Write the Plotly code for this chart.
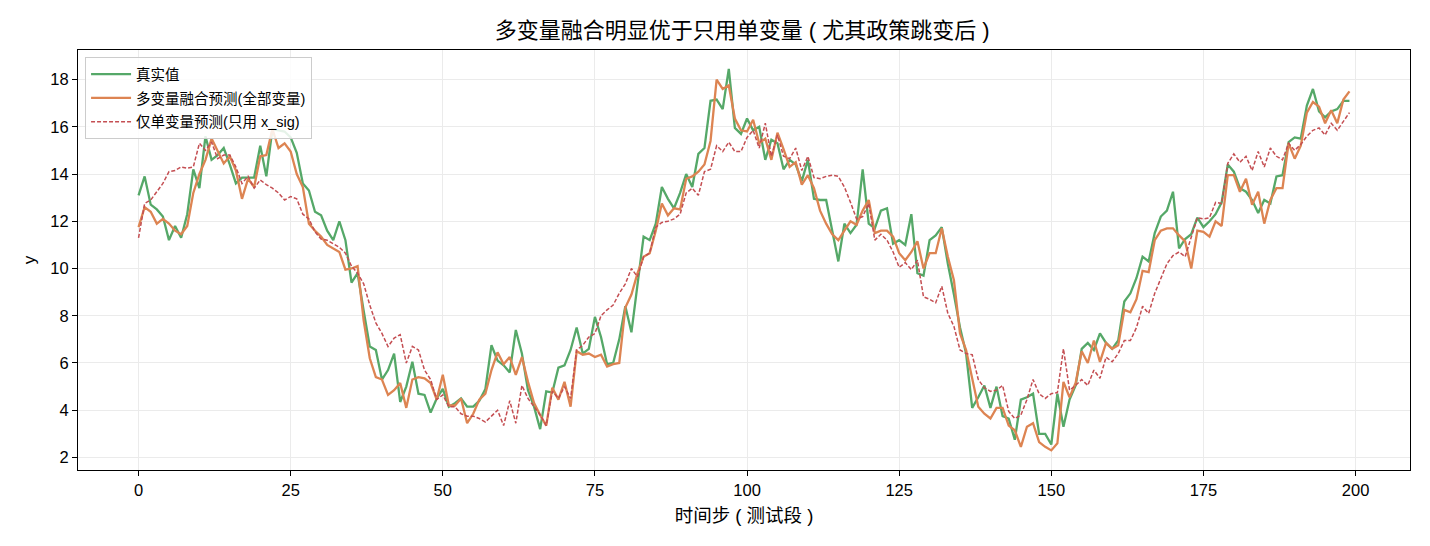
import plotly.graph_objects as go

steps = list(range(200))

y_true = [
13.1,13.9,12.7,12.5,12.2,11.2,11.8,11.3,12.3,14.2,
13.4,15.6,14.6,14.8,15.1,14.4,13.6,13.85,13.85,13.85,
15.2,13.9,15.9,15.85,15.8,15.55,14.9,13.6,13.3,12.4,
12.25,11.6,11.2,12.0,11.2,9.4,9.8,8.2,6.7,6.55,
5.3,5.7,6.4,4.35,5.0,6.05,4.7,4.65,3.9,4.5,
4.9,4.15,4.3,4.5,4.15,4.15,4.4,4.9,6.75,6.1,
5.9,5.6,7.4,6.4,4.85,4.15,3.2,4.8,4.75,5.8,
5.9,6.55,7.5,6.4,6.6,7.95,7.1,5.95,6.0,7.0,
8.4,7.3,9.3,11.35,11.2,11.9,13.45,12.95,12.55,13.2,
14.0,13.45,14.85,15.1,17.1,17.15,16.75,18.45,15.95,15.7,
16.35,15.85,16.0,14.6,15.45,15.3,14.2,14.6,14.4,13.7,
14.6,12.95,12.9,12.9,11.6,10.3,11.9,11.5,11.85,14.2,
11.9,11.7,12.45,12.55,11.05,11.2,11.0,12.3,9.8,9.7,
11.2,11.4,11.75,10.2,8.9,7.5,6.4,4.1,4.55,5.05,
4.1,5.0,3.75,3.65,2.75,4.45,4.55,4.7,3.0,3.0,
2.55,4.7,3.3,4.45,5.05,6.6,6.85,6.55,7.25,6.85,
6.6,6.95,8.6,8.95,9.6,10.5,10.3,11.5,12.2,12.45,
13.25,10.85,11.25,11.45,12.15,11.75,12.0,12.3,12.8,14.4,
14.1,13.4,13.25,12.9,12.35,12.9,12.75,13.9,13.95,15.35,
15.55,15.5,16.9,17.6,16.65,16.4,16.65,16.75,17.1,17.1]

y_multi = [
11.75,12.6,12.4,11.9,12.1,11.9,11.6,11.45,11.8,13.2,
14.0,14.6,15.5,15.0,14.45,14.75,14.15,12.95,13.8,13.45,
14.75,14.8,15.9,15.1,15.3,14.95,14.0,13.45,11.9,11.6,
11.35,11.0,10.85,10.7,9.95,10.0,10.1,7.8,6.2,5.4,
5.3,4.65,4.85,5.15,4.1,5.3,5.4,5.35,5.15,4.45,
5.5,4.2,4.2,4.5,3.45,3.85,4.45,4.7,5.7,6.45,
5.95,6.25,5.5,6.25,5.2,4.3,3.8,3.35,4.95,4.45,
5.2,4.15,6.5,6.35,6.4,6.25,6.35,5.85,5.95,6.0,
8.35,8.9,9.8,10.5,10.65,11.6,12.75,12.25,12.55,12.5,
13.8,13.9,14.1,14.4,15.4,18.0,17.6,17.75,16.35,15.85,
15.8,16.3,15.3,15.5,14.6,15.75,15.05,14.3,14.5,13.55,
13.95,13.4,12.45,11.9,11.45,11.2,11.6,12.0,11.85,12.45,
12.9,11.5,11.6,11.6,11.35,10.65,10.35,10.7,11.15,10.0,
10.65,10.65,11.7,10.5,9.5,7.25,6.55,5.3,4.15,3.85,
3.65,4.1,4.1,3.35,3.15,2.45,3.3,3.45,2.65,2.45,
2.3,2.6,5.2,4.55,5.15,6.5,6.0,6.95,6.05,6.85,
6.6,6.75,8.25,8.15,8.7,9.9,9.85,11.2,11.6,11.7,
11.7,11.4,11.15,10.0,11.6,11.55,11.35,12.0,11.8,13.95,
13.95,13.25,13.8,12.7,13.25,11.9,12.9,13.4,13.4,15.3,
14.65,15.2,16.6,17.05,16.85,16.15,16.7,16.15,17.15,17.5]

y_single = [
11.3,12.75,12.9,13.25,13.6,14.1,14.15,14.3,14.25,14.3,
15.3,15.0,15.35,14.65,14.8,14.8,14.3,13.6,13.9,13.4,
13.75,13.55,13.4,13.2,12.9,13.05,12.95,12.3,12.1,11.55,
11.25,11.2,11.05,10.9,10.65,10.1,9.8,9.35,8.45,7.7,
7.25,6.7,7.05,7.2,6.0,6.7,6.55,5.7,5.3,4.45,
4.65,4.15,4.15,3.85,3.75,3.75,3.65,3.5,3.75,4.0,
3.35,4.4,3.45,5.05,4.5,4.15,3.8,3.35,4.8,4.5,
5.0,4.5,6.55,6.75,7.1,7.25,8.0,8.25,8.45,8.95,
9.35,10.0,9.65,10.5,10.65,11.75,11.95,12.0,12.1,12.3,
13.2,13.4,13.1,14.1,14.2,15.2,14.95,15.35,14.95,14.95,
15.55,15.85,15.1,16.15,14.75,15.65,14.75,14.65,15.1,14.15,
14.75,13.85,13.8,13.9,13.95,13.9,13.45,12.8,12.1,12.2,
12.75,11.2,11.45,11.2,10.7,10.05,10.25,9.95,10.35,8.8,
8.7,8.55,9.25,8.1,7.55,6.55,6.4,6.35,5.3,4.95,
4.8,4.85,5.05,3.95,3.65,3.8,4.45,5.3,4.7,4.5,
4.7,4.75,6.6,4.85,5.05,5.3,5.05,5.7,5.35,6.25,
6.05,6.4,6.95,6.95,7.5,8.4,8.1,8.95,9.6,10.2,
10.55,10.7,10.5,11.35,12.15,12.1,12.15,12.8,12.75,14.45,
14.85,14.5,14.75,14.15,14.95,14.3,15.1,14.75,14.6,15.3,
15.0,15.25,15.6,15.85,15.95,15.65,16.15,15.85,16.2,16.6]

x_ticks = [0, 25, 50, 75, 100, 125, 150, 175, 200]
y_ticks = [2, 4, 6, 8, 10, 12, 14, 16, 18]

FONT = "Liberation Sans, Arial, Noto Sans CJK SC, sans-serif"

fig = go.Figure()
fig.add_trace(go.Scatter(x=steps, y=y_true, mode="lines", name="真实值", legendgroup="a",
                         line=dict(color="#55a868", width=2.3)))
fig.add_trace(go.Scatter(x=steps, y=y_multi, mode="lines", name="多变量融合预测(全部变量)", legendgroup="b",
                         line=dict(color="#dd8452", width=2.3)))
fig.add_trace(go.Scatter(x=steps, y=y_single, mode="lines", name="仅单变量预测(只用 x_sig)", legendgroup="c",
                         line=dict(color="#c44e52", width=1.5, dash="4px,2px")))

axis_common = dict(showline=True, linecolor="black", linewidth=1, mirror=True,
                   ticks="outside", ticklen=5, tickcolor="black",
                   showgrid=True, gridcolor="#ebebeb", gridwidth=1, zeroline=False,
                   tickfont=dict(size=16.5, color="black", family=FONT))

fig.update_layout(
    width=1430, height=546,
    margin=dict(l=78, r=20, t=50, b=76),
    plot_bgcolor="white", paper_bgcolor="white",
    font=dict(family=FONT, color="black"),
    title=dict(text="多变量融合明显优于只用单变量 ( 尤其政策跳变后 )", x=0.519, xanchor="center",
               y=1 - 30 / 546, yanchor="middle", font=dict(size=22, color="black", family=FONT)),
    xaxis=dict(range=[-9.95, 208.95], tickvals=x_ticks,
               title=dict(text="时间步 ( 测试段 )", font=dict(size=18.5), standoff=11), **axis_common),
    yaxis=dict(range=[1.47, 19.25], tickvals=y_ticks,
               title=dict(text="y", font=dict(size=17), standoff=10), **axis_common),
    legend=dict(x=0.0053, y=0.983, xanchor="left", yanchor="top",
                bgcolor="rgba(255,255,255,0.85)", bordercolor="#cccccc", borderwidth=1,
                font=dict(size=14.5, color="black", family=FONT),
                tracegroupgap=2, itemwidth=40),
    showlegend=True,
)

fig.write_html("out.html")
